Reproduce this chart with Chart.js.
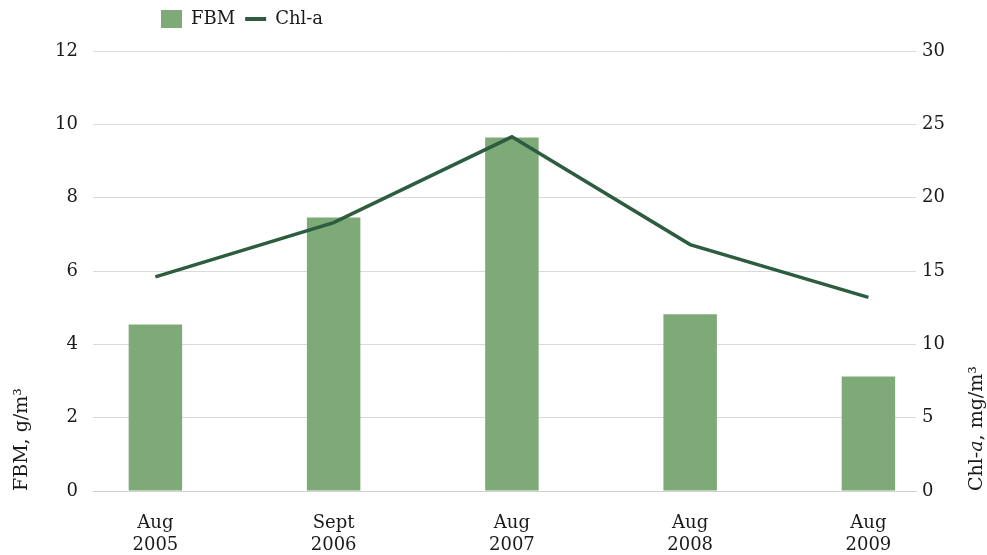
<!DOCTYPE html>
<html>
<head>
<meta charset="utf-8">
<script src="https://cdn.jsdelivr.net/npm/chart.js@4"></script>
<style>
  html, body { margin: 0; background: #fff; }
  #wrap { width: 987px; height: 555px; }
</style>
</head>
<body>
<div id="wrap"><canvas id="chart"></canvas></div>
<script>
const periods = [['Aug', '2005'], ['Sept', '2006'], ['Aug', '2007'], ['Aug', '2008'], ['Aug', '2009']];
const fbmValues = [4.54, 7.46, 9.64, 4.82, 3.12];
const chlaValues = [14.6, 18.3, 24.15, 16.8, 13.2];
const fbmTicks = [0, 2, 4, 6, 8, 10, 12];
const chlaTicks = [0, 5, 10, 15, 20, 25, 30];

const FONT = '"DejaVu Serif", "Liberation Serif", serif';
const TEXT = '#1a1a1a';
const BAR_COLOR = '#7eaa78';
const LINE_COLOR = '#2d5c3f';
const GRID = '#d9d9d9';

// legend sits left of centre and the plot starts lower than the default legend height
const layoutTweaks = {
  id: 'layoutTweaks',
  beforeLayout(chart) {
    const lg = chart.legend;
    if (lg && !lg._patched) {
      const fit = lg.fit;
      lg.fit = function () { fit.call(this); this.height = 51; };
      lg._patched = true;
    }
  },
  afterLayout(chart) {
    if (chart.legend) chart.legend.left = 151;
  },
  afterDraw(chart) {
    // right axis title reads bottom-to-top, with italic "a"
    const ctx = chart.ctx;
    const parts = [['Chl-', 'normal'], ['a', 'italic'], [', mg/m³', 'normal']];
    ctx.save();
    ctx.translate(977, chart.chartArea.bottom);
    ctx.rotate(-Math.PI / 2);
    ctx.fillStyle = TEXT;
    ctx.textAlign = 'left';
    ctx.textBaseline = 'middle';
    let x = 0;
    parts.forEach(([t, style]) => {
      ctx.font = style + ' 19px ' + FONT;
      ctx.fillText(t, x, 0);
      x += ctx.measureText(t).width;
    });
    ctx.restore();
  }
};

const ctx = document.getElementById('chart').getContext('2d');
new Chart(ctx, {
  type: 'bar',
  data: {
    datasets: [{
      label: 'FBM',
      data: fbmValues.map((v, i) => ({ x: i, y: v })),
      backgroundColor: BAR_COLOR,
      borderWidth: 0,
      barPercentage: 0.3,
      categoryPercentage: 1,
      yAxisID: 'y',
      order: 1,
    }, {
      type: 'line',
      label: 'Chl-a',
      data: chlaValues.map((v, i) => ({ x: i, y: v })),
      borderColor: LINE_COLOR,
      backgroundColor: LINE_COLOR,
      borderWidth: 3.5,
      pointRadius: 0,
      tension: 0,
      yAxisID: 'y1',
      order: 0,
    }],
  },
  options: {
    responsive: true,
    maintainAspectRatio: false,
    animation: false,
    layout: { padding: 0 },
    plugins: {
      legend: {
        position: 'top',
        align: 'start',
        labels: {
          usePointStyle: true,
          pointStyleWidth: 21,
          padding: 10,
          color: TEXT,
          font: { family: FONT, size: 18 },
          generateLabels: chart => {
            const items = Chart.defaults.plugins.legend.labels.generateLabels(chart)
              .sort((a, b) => a.datasetIndex - b.datasetIndex);
            items[0].pointStyle = 'rect';
            items[0].lineWidth = 0;
            items[0].fillStyle = BAR_COLOR;
            items[1].pointStyle = 'line';
            items[1].lineWidth = 4;
            items[1].strokeStyle = LINE_COLOR;
            return items;
          },
        },
      },
      tooltip: { enabled: false },
    },
    scales: {
      x: {
        type: 'linear',
        min: -0.35,
        max: 4.267,
        offset: false,
        grid: { display: false },
        border: { color: '#d0d0d0' },
        afterBuildTicks: s => { s.ticks = periods.map((_, i) => ({ value: i })); },
        afterFit: s => { s.height = 64; },
        ticks: {
          autoSkip: false,
          maxRotation: 0,
          padding: 13,
          color: TEXT,
          font: { family: FONT, size: 18, lineHeight: 1.25 },
          callback: v => periods[v],
        },
      },
      y: {
        position: 'left',
        min: 0,
        max: 12,
        grid: { color: GRID, drawTicks: false },
        border: { display: false },
        afterBuildTicks: s => { s.ticks = fbmTicks.map(v => ({ value: v })); },
        afterFit: s => { s.width = 93; },
        ticks: { padding: 15, color: TEXT, font: { family: FONT, size: 18 } },
        title: {
          display: true,
          text: 'FBM, g/m³',
          align: 'start',
          color: TEXT,
          font: { family: FONT, size: 19 },
          padding: { top: 11, bottom: 0 },
        },
      },
      y1: {
        position: 'right',
        min: 0,
        max: 30,
        grid: { display: false, drawTicks: false },
        border: { display: false },
        afterBuildTicks: s => { s.ticks = chlaTicks.map(v => ({ value: v })); },
        afterFit: s => { s.width = 71; },
        ticks: { padding: 6, color: TEXT, font: { family: FONT, size: 18 } },
      },
    },
  },
  plugins: [layoutTweaks],
});
</script>
</body>
</html>
